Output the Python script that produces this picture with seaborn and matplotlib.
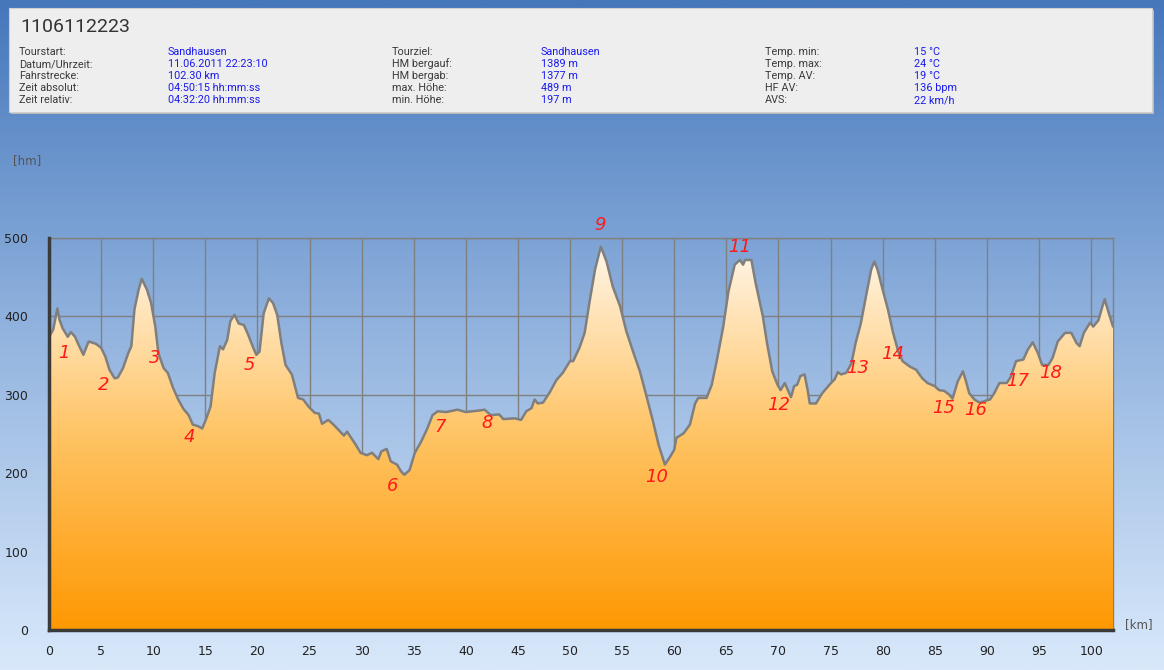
"""
Elevation profile of tour 1106112223 (Sandhausen round trip).
Gradient sky background, orange gradient fill under the profile,
numbered waypoints and a header box with the tour summary.
"""

import matplotlib
matplotlib.use("Agg")
import matplotlib.pyplot as plt
import numpy as np
import seaborn as sns
from matplotlib.colors import LinearSegmentedColormap
from matplotlib.patches import Rectangle

# distance along the route [km] and elevation [m]
km = [0.0, 0.4, 0.8, 1.0, 1.3, 1.8, 2.1, 2.5, 2.9, 3.3, 3.8, 4.5, 5.0, 5.4, 5.8,
      6.3, 6.6, 7.1, 7.6, 7.9, 8.2, 8.6, 8.9, 9.4, 9.8, 10.2, 10.5, 11.0, 11.4,
      11.9, 12.4, 12.9, 13.4, 13.8, 14.3, 14.7, 15.1, 15.5, 15.9, 16.4, 16.7,
      17.1, 17.4, 17.8, 18.2, 18.7, 19.1, 19.6, 19.9, 20.2, 20.6, 21.1, 21.5,
      21.9, 22.3, 22.7, 23.3, 23.6, 23.9, 24.4, 24.9, 25.5, 25.9, 26.2, 26.8,
      27.3, 27.8, 28.3, 28.6, 28.9, 29.4, 29.9, 30.5, 31.0, 31.6, 31.9, 32.4,
      32.8, 33.4, 33.8, 34.1, 34.6, 35.1, 35.7, 36.3, 36.8, 37.3, 38.1, 39.2,
      40.0, 41.3, 41.8, 42.4, 43.2, 43.6, 44.7, 45.3, 45.8, 46.3, 46.6, 46.9,
      47.4, 48.0, 48.7, 49.3, 50.0, 50.3, 50.9, 51.4, 51.9, 52.4, 52.95, 53.5,
      54.1, 54.8, 55.4, 56.1, 56.7, 57.3, 58.0, 58.5, 59.1, 59.6, 60.0, 60.2,
      60.9, 61.5, 62.0, 62.3, 63.1, 63.6, 64.1, 64.7, 65.2, 65.8, 66.3, 66.6,
      66.8, 67.4, 67.8, 68.5, 68.9, 69.4, 69.9, 70.2, 70.6, 71.2, 71.5, 71.8,
      72.1, 72.5, 72.8, 73.0, 73.6, 74.2, 74.9, 75.4, 75.7, 76.0, 76.5, 77.0,
      77.4, 77.9, 78.4, 78.9, 79.2, 79.5, 80.0, 80.5, 81.0, 81.5, 81.9, 82.6,
      83.2, 83.8, 84.3, 85.0, 85.4, 85.9, 86.4, 86.7, 87.2, 87.7, 88.0, 88.3,
      88.8, 89.3, 89.8, 90.3, 90.7, 91.2, 91.9, 92.3, 92.8, 93.5, 93.9, 94.4,
      94.9, 95.3, 95.9, 96.3, 96.8, 97.5, 98.1, 98.6, 98.9, 99.3, 99.9, 100.2,
      100.7, 101.0, 101.3, 101.7, 102.1]
elevation = [374, 383, 410, 396, 385, 374, 380, 374, 362, 351, 368, 365, 360, 349,
             332, 321, 322, 334, 353, 362, 409, 434, 448, 434, 417, 387, 353, 334,
             328, 309, 294, 282, 274, 262, 260, 257, 270, 285, 328, 362, 358, 370,
             394, 402, 391, 389, 377, 360, 351, 355, 404, 423, 417, 402, 366, 338,
             326, 311, 296, 294, 285, 277, 276, 263, 268, 262, 255, 248, 253, 247,
             237, 226, 223, 226, 218, 228, 231, 215, 211, 202, 198, 204, 226, 240,
             257, 274, 279, 278, 281, 278, 280, 281, 274, 275, 269, 270, 268, 279,
             283, 294, 289, 290, 302, 319, 328, 343, 343, 360, 379, 421, 460, 489,
             470, 438, 413, 381, 353, 330, 300, 264, 236, 211, 221, 230, 245, 251,
             262, 289, 296, 296, 313, 345, 387, 432, 466, 472, 466, 472, 472, 443,
             400, 366, 330, 313, 306, 315, 297, 311, 313, 324, 326, 306, 289, 289,
             302, 313, 320, 329, 326, 328, 340, 366, 391, 426, 460, 470, 460, 434,
             409, 379, 355, 343, 336, 332, 321, 315, 311, 306, 305, 300, 295, 317,
             330, 317, 302, 294, 290, 292, 294, 302, 315, 315, 323, 343, 345, 357,
             367, 353, 338, 338, 347, 368, 379, 379, 366, 362, 379, 392, 387, 395,
             409, 422, 404, 387]

# numbered waypoints (label anchor in km / m)
waypoint_labels = [str(i) for i in range(1, 19)]
waypoint_km = [1.4, 5.2, 10.1, 13.5, 19.2, 33.0, 37.5, 42.0, 52.9, 58.3, 66.3,
               70.0, 77.6, 81.0, 85.8, 88.9, 92.9, 96.1]
waypoint_hm = [353, 312, 347, 246, 338, 184, 259, 264, 517, 195, 489, 287, 334,
               352, 283, 281, 318, 328]

x_ticks = list(range(0, 101, 5))
y_ticks = list(range(0, 501, 100))

title = "1106112223"
info_blocks = [
    (["Tourstart:", "Datum/Uhrzeit:", "Fahrstrecke:", "Zeit absolut:", "Zeit relativ:"],
     ["Sandhausen", "11.06.2011 22:23:10", "102.30 km", "04:50:15 hh:mm:ss", "04:32:20 hh:mm:ss"]),
    (["Tourziel:", "HM bergauf:", "HM bergab:", "max. Höhe:", "min. Höhe:"],
     ["Sandhausen", "1389 m", "1377 m", "489 m", "197 m"]),
    (["Temp. min:", "Temp. max:", "Temp. AV:", "HF AV:", "AVS:"],
     ["15 °C", "24 °C", "19 °C", "136 bpm", "22 km/h"]),
]

W, H = 1164, 670


def fx(px):
    return px / W


def fy(py):
    return 1 - py / H


def main():
    sns.set_style("white")
    plt.rcParams["font.family"] = ["DejaVu Sans"]

    fig = plt.figure(figsize=(W / 100, H / 100), dpi=100)

    # sky gradient behind everything
    bg = fig.add_axes([0, 0, 1, 1], zorder=-10)
    sky = LinearSegmentedColormap.from_list("sky", ["#d9e9fb", "#93b4df", "#4577bb"])
    bg.imshow(np.linspace(0, 1, 256).reshape(-1, 1), cmap=sky, origin="lower",
              aspect="auto", extent=[0, 1, 0, 1])
    bg.set_axis_off()

    # header box
    fig.patches.append(Rectangle((fx(11), fy(114)), fx(1143), 104 / H, transform=fig.transFigure,
                                 facecolor="#b9b9b9", edgecolor="none", zorder=1))
    fig.patches.append(Rectangle((fx(9), fy(112)), fx(1143), 104 / H, transform=fig.transFigure,
                                 facecolor="#eeeeee", edgecolor="#d0d0d0", lw=0.8, zorder=2))
    fig.text(fx(20), fy(27), title, fontsize=14, color="#333333", family="Roboto",
             va="center", ha="left")
    col_x = [(19, 168), (392, 541), (765, 914)]
    row_y = [52, 64, 76, 88, 100]
    for (labels, values), (lx, vx) in zip(info_blocks, col_x):
        for lab, val, ry in zip(labels, values, row_y):
            fig.text(fx(lx), fy(ry), lab, fontsize=7.8, color="#3a3a3a", family="Roboto",
                     va="center", ha="left")
            fig.text(fx(vx), fy(ry), val, fontsize=7.8, color="#1a1aee", family="Roboto",
                     va="center", ha="left")

    # profile axes
    ax = fig.add_axes([fx(49), fy(630), fx(1113) - fx(49), (630 - 238) / H])
    ax.patch.set_alpha(0)
    x_max = km[-1]

    sns.lineplot(x=km, y=elevation, ax=ax, color="#7f7f7f", lw=1.8, zorder=3)

    fill = ax.fill_between(km, elevation, 0, facecolor="none", edgecolor="none")
    orange = LinearSegmentedColormap.from_list("orange", ["#fe9802", "#ffc465", "#fff8ee"])
    im = ax.imshow(np.linspace(0, 1, 256).reshape(-1, 1), cmap=orange, origin="lower",
                   aspect="auto", extent=[0, x_max, 0, 500], zorder=1)
    im.set_clip_path(fill.get_paths()[0], transform=ax.transData)

    for lab, x, y in zip(waypoint_labels, waypoint_km, waypoint_hm):
        ax.text(x, y, lab, color="#ff1a1a", fontsize=13, style="italic",
                ha="center", va="center", zorder=4)

    ax.set_xlim(0, x_max)
    ax.set_ylim(0, 500)
    ax.set_xticks(x_ticks)
    ax.set_yticks(y_ticks)
    ax.set_axisbelow(True)
    ax.grid(True, color="#808080", lw=1)
    ax.tick_params(axis="both", direction="out", length=5, width=1, color="#333333",
                   labelsize=9, labelcolor="#222222", pad=6)
    ax.tick_params(axis="y", pad=10)
    ax.set_xlabel("")
    ax.set_ylabel("")

    for side in ["left", "bottom"]:
        ax.spines[side].set_color("#3a3a3a")
        ax.spines[side].set_linewidth(2.5)
        ax.spines[side].set_zorder(5)
    for side in ["top", "right"]:
        ax.spines[side].set_color("#808080")
        ax.spines[side].set_linewidth(1)
        ax.spines[side].set_zorder(0.5)
        ax.spines[side].set_visible(True)

    fig.text(fx(13), fy(161), "[hm]", fontsize=8.5, color="#555555", va="center", ha="left")
    fig.text(fx(1125), fy(625), "[km]", fontsize=8.5, color="#555555", va="center", ha="left")

    fig.savefig("out.png", dpi=100)
    plt.close(fig)


if __name__ == "__main__":
    main()
